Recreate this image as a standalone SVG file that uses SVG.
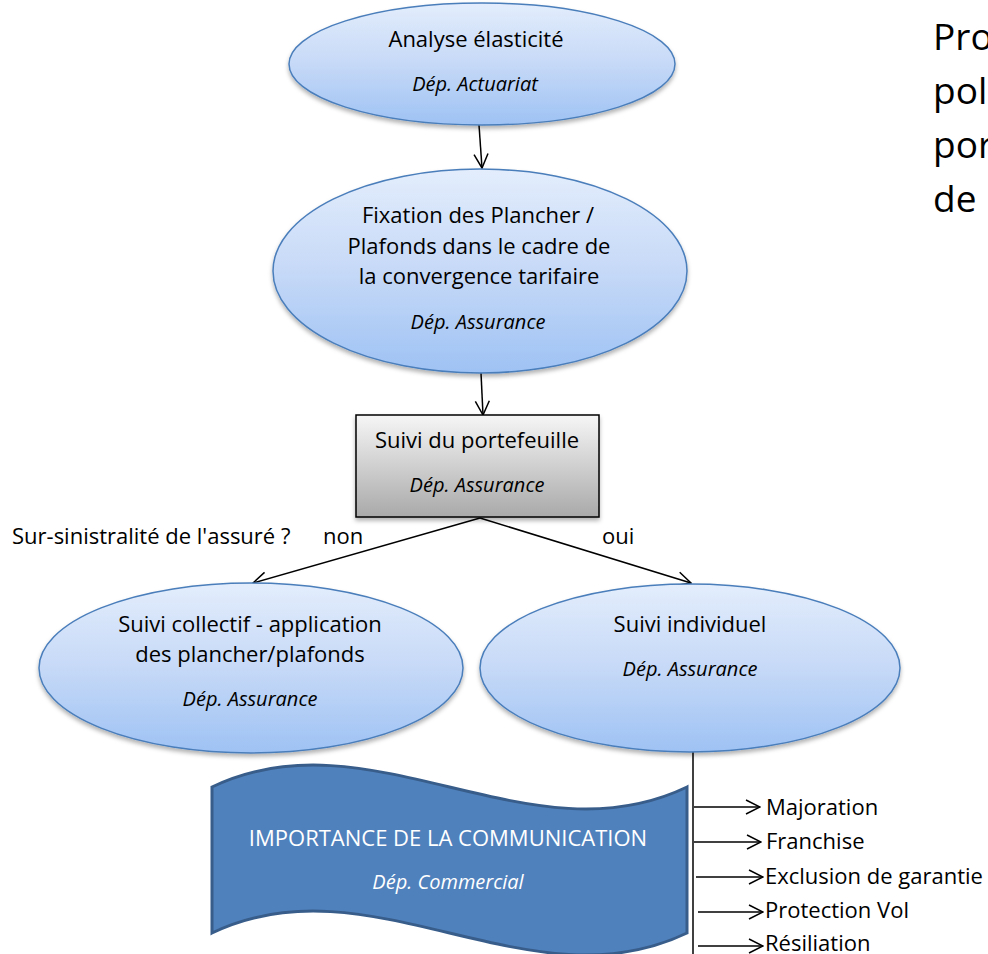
<svg xmlns="http://www.w3.org/2000/svg" width="988" height="954" viewBox="0 0 988 954">
<style>
.t{font-family:"Open Sans","Liberation Sans",sans-serif;font-size:22px;fill:#000;text-anchor:middle}
.d{font-family:"Open Sans","Liberation Sans",sans-serif;font-size:20px;font-style:italic;fill:#000;text-anchor:middle}
.l{font-family:"Open Sans","Liberation Sans",sans-serif;font-size:22px;fill:#000}
.big{font-family:"Open Sans","Liberation Sans",sans-serif;font-size:37px;fill:#000}
.ell{fill:url(#gBlue);stroke:#4a7ebb;stroke-width:1.5;filter:url(#sh)}
.con{stroke:#000;stroke-width:1.5;fill:none;marker-end:url(#arr)}
.w{fill:#fff}
</style>
<defs>
<linearGradient id="gBlue" x1="0" y1="0" x2="0" y2="1">
<stop offset="0" stop-color="#e3edfc"/>
<stop offset="0.5" stop-color="#c6d9f7"/>
<stop offset="1" stop-color="#9ec2f4"/>
</linearGradient>
<linearGradient id="gGray" x1="0" y1="0" x2="0" y2="1">
<stop offset="0" stop-color="#f6f6f6"/>
<stop offset="1" stop-color="#a9a9a9"/>
</linearGradient>
<filter id="sh" x="-10%" y="-10%" width="120%" height="130%">
<feDropShadow dx="0" dy="3" stdDeviation="2" flood-color="#000" flood-opacity="0.3"/>
</filter>
<marker id="arr" viewBox="0 0 16 16" markerWidth="16" markerHeight="16" refX="15" refY="8" orient="auto" markerUnits="userSpaceOnUse">
<path d="M1,1 L15,8 L1,15" fill="none" stroke="#000" stroke-width="1.5"/>
</marker>
</defs>
<rect width="988" height="954" fill="#fff"/>

<g id="connectors">
<line class="con" x1="479" y1="125" x2="482" y2="168"/>
<line class="con" x1="481" y1="373" x2="483" y2="415"/>
<line class="con" x1="480" y1="518" x2="253" y2="583"/>
<line class="con" x1="480" y1="518" x2="691" y2="583"/>
<line x1="693" y1="752" x2="693" y2="954" stroke="#000" stroke-width="1.5"/>
<line class="con" x1="694" y1="807" x2="760" y2="807"/>
<line class="con" x1="694" y1="842" x2="761" y2="842"/>
<line class="con" x1="696" y1="877" x2="763" y2="877"/>
<line class="con" x1="698" y1="912" x2="763" y2="912"/>
<line class="con" x1="698" y1="946" x2="763" y2="946"/>
</g>

<g id="analyse">
<ellipse class="ell" cx="482" cy="64" rx="193" ry="61"/>
<text class="t" x="476" y="47">Analyse  élasticité</text>
<text class="d" x="475" y="91">Dép. Actuariat</text>
</g>

<g id="fixation">
<ellipse class="ell" cx="480" cy="271" rx="207" ry="102"/>
<text class="t" x="478" y="223">Fixation des Plancher /</text>
<text class="t" x="479" y="254">Plafonds dans le cadre de</text>
<text class="t" x="479" y="284">la convergence tarifaire</text>
<text class="d" x="478" y="329">Dép. Assurance</text>
</g>

<g id="suivi-portefeuille">
<rect x="356" y="415" width="243" height="102" fill="url(#gGray)" stroke="#000" stroke-width="1.5" filter="url(#sh)"/>
<text class="t" x="477" y="448">Suivi du portefeuille</text>
<text class="d" x="477" y="492">Dép. Assurance</text>
</g>

<g id="labels">
<text class="l" x="12" y="544">Sur-sinistralité de l'assuré ?</text>
<text class="l" x="323" y="544">non</text>
<text class="l" x="602" y="544">oui</text>
</g>

<g id="suivi-collectif">
<ellipse class="ell" cx="251" cy="668" rx="212" ry="85"/>
<text class="t" x="250" y="632">Suivi collectif  - application</text>
<text class="t" x="250" y="662">des plancher/plafonds</text>
<text class="d" x="250" y="706">Dép. Assurance</text>
</g>

<g id="suivi-individuel">
<ellipse class="ell" cx="690" cy="668" rx="210" ry="84"/>
<text class="t" x="690" y="632">Suivi individuel</text>
<text class="d" x="690" y="676">Dép. Assurance</text>
</g>

<g id="communication">
<path d="M212,787 C370,711 529,863 687,787 L687,933 C529,1009 370,857 212,933 Z" fill="#4f81bd" stroke="#385d8a" stroke-width="3"/>
<text class="t w" x="448" y="846">IMPORTANCE DE LA COMMUNICATION</text>
<text class="d w" x="448" y="889">Dép. Commercial</text>
</g>

<g id="mesures">
<text class="l" x="766" y="815">Majoration</text>
<text class="l" x="766" y="849">Franchise</text>
<text class="l" x="765" y="884">Exclusion de garantie</text>
<text class="l" x="765" y="918">Protection Vol</text>
<text class="l" x="765" y="951">Résiliation</text>
</g>

<g id="titre">
<text class="big" x="933" y="50">Pro</text>
<text class="big" x="933" y="104">pol</text>
<text class="big" x="933" y="158">por</text>
<text class="big" x="933" y="212">de</text>
</g>
</svg>
